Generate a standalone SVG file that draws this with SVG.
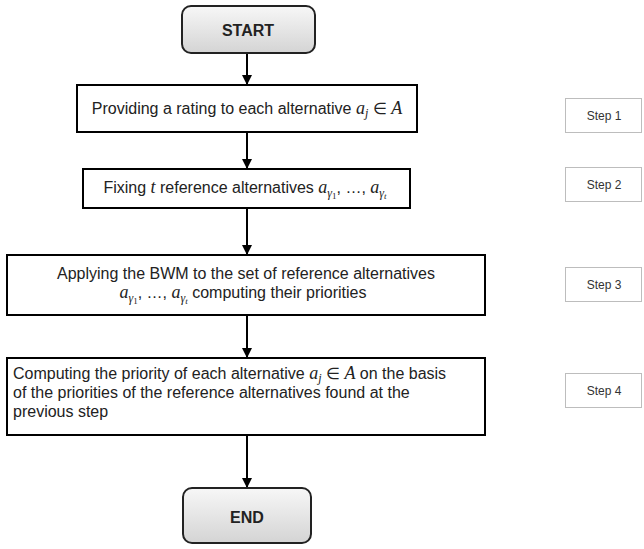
<svg xmlns="http://www.w3.org/2000/svg" width="644" height="549" viewBox="0 0 644 549">
<defs>
<linearGradient id="g" x1="0" y1="0" x2="0" y2="1">
<stop offset="0" stop-color="#f7f7f7"/>
<stop offset="1" stop-color="#d4d4d4"/>
</linearGradient>
<marker id="ah" viewBox="0 0 10 10" refX="10" refY="5" markerWidth="10" markerHeight="10" markerUnits="userSpaceOnUse" orient="auto">
<path d="M0,0 L10,5 L0,10 z" fill="#000"/>
</marker>
</defs>
<style>
.box{fill:#fff;stroke:#000;stroke-width:2}
.term{fill:url(#g);stroke:#222;stroke-width:2}
.step{fill:#fff;stroke:#bdbdbd;stroke-width:1}
.t{font-family:"Liberation Sans",Arial,sans-serif;font-size:16px;fill:#222}
.tb{font-family:"Liberation Sans",Arial,sans-serif;font-size:16px;font-weight:bold;fill:#222;text-anchor:middle}
.st{font-family:"Liberation Sans",Arial,sans-serif;font-size:12px;fill:#333;text-anchor:middle}
.m{font-family:"Liberation Serif","Times New Roman",serif;font-style:italic;font-size:18px}
.s{font-family:"Liberation Serif","Times New Roman",serif;font-style:italic;font-size:12px}
.ss{font-family:"Liberation Serif","Times New Roman",serif;font-size:9px}
.c{text-anchor:middle}
.con{stroke:#000;stroke-width:2;fill:none;marker-end:url(#ah)}
</style>
<g id="connectors">
<line class="con" x1="247" y1="53" x2="247" y2="85"/>
<line class="con" x1="247" y1="132" x2="247" y2="169"/>
<line class="con" x1="247" y1="208" x2="247" y2="255"/>
<line class="con" x1="247" y1="315" x2="247" y2="358"/>
<line class="con" x1="247" y1="435" x2="247" y2="488"/>
</g>
<g id="start">
<rect class="term" x="182" y="6" width="133" height="47" rx="9"/>
<text class="tb" x="248" y="36">START</text>
</g>
<g id="step1box">
<rect class="box" x="77" y="85" width="340" height="47"/>
<text class="t c" x="247" y="114">Providing a rating to each alternative <tspan class="m">a</tspan><tspan class="s" dy="3">j</tspan><tspan dy="-3"> ∈ </tspan><tspan class="m">A</tspan></text>
</g>
<g id="step2box">
<rect class="box" x="83" y="169" width="327" height="39"/>
<text class="t c" x="245" y="193">Fixing <tspan class="m">t</tspan> reference alternatives <tspan class="m">a</tspan><tspan class="s" dy="4">γ</tspan><tspan class="ss" dy="2">1</tspan><tspan dy="-6">, …, </tspan><tspan class="m">a</tspan><tspan class="s" dy="4">γ</tspan><tspan class="ss" font-style="italic" dy="2">t</tspan></text>
</g>
<g id="step3box">
<rect class="box" x="7" y="255" width="478" height="60"/>
<text class="t c" x="246" y="279">Applying the BWM to the set of reference alternatives</text>
<text class="t c" x="243" y="298"><tspan class="m">a</tspan><tspan class="s" dy="4">γ</tspan><tspan class="ss" dy="2">1</tspan><tspan dy="-6">, …, </tspan><tspan class="m">a</tspan><tspan class="s" dy="4">γ</tspan><tspan class="ss" font-style="italic" dy="2">t</tspan><tspan dy="-6"> computing their priorities</tspan></text>
</g>
<g id="step4box">
<rect class="box" x="7" y="358" width="478" height="77"/>
<text class="t" x="13" y="379">Computing the priority of each alternative <tspan class="m">a</tspan><tspan class="s" dy="3">j</tspan><tspan dy="-3"> ∈ </tspan><tspan class="m">A</tspan> on the basis</text>
<text class="t" x="13" y="398">of the priorities of the reference alternatives found at the</text>
<text class="t" x="13" y="417">previous step</text>
</g>
<g id="end">
<rect class="term" x="183" y="488" width="128" height="55" rx="9"/>
<text class="tb" x="247" y="523">END</text>
</g>
<g id="label1">
<rect class="step" x="565.5" y="98.5" width="76" height="34"/>
<text class="st" x="604" y="120">Step 1</text>
</g>
<g id="label2">
<rect class="step" x="565.5" y="167.5" width="76" height="34"/>
<text class="st" x="604" y="189">Step 2</text>
</g>
<g id="label3">
<rect class="step" x="565.5" y="267.5" width="76" height="34"/>
<text class="st" x="604" y="289">Step 3</text>
</g>
<g id="label4">
<rect class="step" x="565.5" y="373.5" width="76" height="34"/>
<text class="st" x="604" y="395">Step 4</text>
</g>
</svg>
